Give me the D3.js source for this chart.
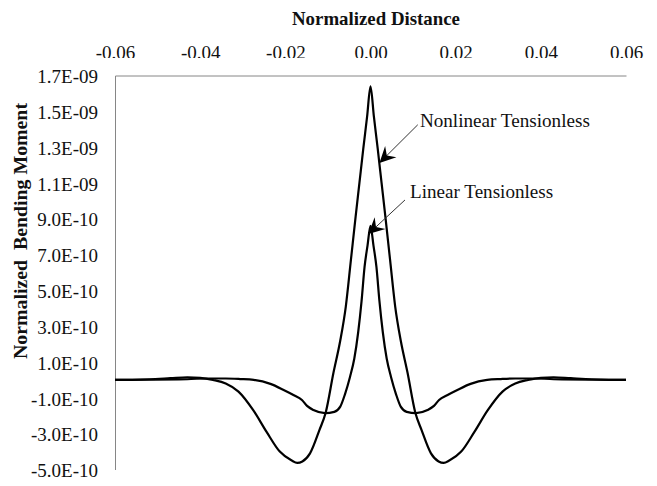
<!DOCTYPE html>
<html><head><meta charset="utf-8">
<script src="https://cdn.jsdelivr.net/npm/d3@7"></script>
<style>
body{margin:0;background:#fff;}
text{font-family:"Liberation Serif","Times New Roman",serif;fill:#111;}
</style>
</head><body>
<svg id="c" width="657" height="486"></svg>
<script>
// ---- data (moment values in units of 1E-10) ----
const xTickValues = [-0.06, -0.04, -0.02, 0.00, 0.02, 0.04, 0.06];
const xTickLabels = ["-0.06", "-0.04", "-0.02", "0.00", "0.02", "0.04", "0.06"];
const yTickValues = [17, 15, 13, 11, 9, 7, 5, 3, 1, -1, -3, -5];
const yTickLabels = ["1.7E-09", "1.5E-09", "1.3E-09", "1.1E-09", "9.0E-10", "7.0E-10", "5.0E-10", "3.0E-10", "1.0E-10", "-1.0E-10", "-3.0E-10", "-5.0E-10"];

const nonlinearX = [-0.06, -0.056, -0.052, -0.047, -0.043, -0.040, -0.037, -0.034, -0.031, -0.0275, -0.0244, -0.0213, -0.0185, -0.0172, -0.016, -0.0142, -0.012, -0.0105, -0.0087, -0.0071, -0.0058, -0.0046, -0.0035, -0.0026, -0.0017, -0.0008, 0,
  0.0008, 0.0017, 0.0026, 0.0035, 0.0046, 0.0058, 0.0071, 0.0087, 0.0105, 0.012, 0.0142, 0.016, 0.0172, 0.0185, 0.0213, 0.0244, 0.0275, 0.031, 0.034, 0.037, 0.040, 0.043, 0.047, 0.052, 0.056, 0.06];
const nonlinearM = [0, 0.01, 0.04, 0.1, 0.15, 0.12, 0, -0.2, -0.65, -1.7, -2.9, -4.0, -4.5, -4.63, -4.55, -4.1, -2.8, -1.8, 0.4, 2.2, 4.1, 6.7, 9.1, 11.0, 12.9, 14.7, 16.4,
  14.7, 12.9, 11.0, 9.1, 6.7, 4.1, 2.2, 0.4, -1.8, -2.8, -4.1, -4.55, -4.63, -4.5, -4.0, -2.9, -1.7, -0.65, -0.2, 0, 0.12, 0.15, 0.1, 0.04, 0.01, 0];

const linearX = [-0.06, -0.052, -0.045, -0.038, -0.034, -0.0306, -0.0274, -0.0235, -0.0204, -0.0181, -0.0161, -0.0149, -0.0134, -0.0107, -0.0085, -0.0071, -0.006, -0.0048, -0.0038, -0.0029, -0.0021, -0.0014, -0.0007, 0,
  0.0007, 0.0014, 0.0021, 0.0029, 0.0038, 0.0048, 0.006, 0.0071, 0.0085, 0.0107, 0.0134, 0.0149, 0.0161, 0.0181, 0.0204, 0.0235, 0.0274, 0.0306, 0.034, 0.038, 0.045, 0.052, 0.06];
const linearM = [0, 0.01, 0.03, 0.08, 0.08, 0.05, 0, -0.22, -0.56, -0.84, -1.12, -1.45, -1.68, -1.85, -1.78, -1.49, -0.8, 0.18, 1.2, 2.65, 4.4, 6.3, 7.5, 8.6,
  7.5, 6.3, 4.4, 2.65, 1.2, 0.18, -0.8, -1.49, -1.78, -1.85, -1.68, -1.45, -1.12, -0.84, -0.56, -0.22, 0, 0.05, 0.08, 0.08, 0.03, 0.01, 0];

const seriesNames = ["Nonlinear Tensionless", "Linear Tensionless"];
// annotation anchors in data coordinates: [textX, textM, lineStartX, lineStartM, tipX, tipM]
const annotNonlinear = [0.0116, 14.1, 0.0111, 14.25, 0.0021, 12.12];
const annotLinear = [0.0093, 10.16, 0.0081, 10.05, -0.0005, 8.15];

const xTitle = "Normalized Distance";
const yTitle = "Normalized  Bending Moment";

// ---- drawing ----
const svg = d3.select("#c");
const x = d3.scaleLinear().domain([-0.06, 0.06]).range([115, 626]);
const y = d3.scaleLinear().domain([-5, 17]).range([469.5, 75.5]);

const defs = svg.append("defs");
const cp = defs.append("clipPath").attr("id", "topclip");
cp.append("rect").attr("x", 0).attr("y", 0).attr("width", 657).attr("height", 58);
cp.append("rect").attr("x", 0).attr("y", 70).attr("width", 657).attr("height", 20);

// top x axis
const xg = svg.append("g").attr("clip-path", "url(#topclip)")
  .append("g").attr("transform", "translate(0," + y(17) + ")")
  .call(d3.axisTop(x).tickValues(xTickValues).tickFormat((d, i) => xTickLabels[i]).tickSize(0).tickSizeOuter(0));
xg.select(".domain").attr("stroke", "#868686").attr("stroke-width", 1);
xg.selectAll(".tick text").attr("font-size", 19).attr("font-family", "Liberation Serif")
  .attr("y", 59.3 - y(17)).attr("dy", 0).attr("fill", "#111");

// left y axis
const yg = svg.append("g").attr("transform", "translate(" + x(-0.06) + ",0)")
  .call(d3.axisLeft(y).tickValues(yTickValues).tickFormat((d, i) => yTickLabels[i]).tickSize(0).tickSizeOuter(0));
yg.select(".domain").attr("stroke", "#868686").attr("stroke-width", 1);
yg.selectAll(".tick text").attr("font-size", 19).attr("font-family", "Liberation Serif")
  .attr("x", -17).attr("dy", 0).attr("y", 7.2).attr("fill", "#111");

// titles
svg.append("text").attr("x", 376).attr("y", 25).attr("text-anchor", "middle")
  .attr("font-size", 19).attr("font-weight", "bold").attr("textLength", 168)
  .attr("lengthAdjust", "spacingAndGlyphs").text(xTitle);
svg.append("text").attr("transform", "translate(27,231) rotate(-90)").attr("text-anchor", "middle")
  .attr("font-size", 19.5).attr("font-weight", "bold").attr("textLength", 256)
  .attr("lengthAdjust", "spacingAndGlyphs").style("white-space", "pre").text(yTitle);

// curves
const line = d3.line().x(d => x(d[0])).y(d => y(d[1])).curve(d3.curveMonotoneX);
const nonlinearData = nonlinearX.map((v, i) => [v, nonlinearM[i]]);
const linearData = linearX.map((v, i) => [v, linearM[i]]);
[linearData, nonlinearData].forEach(data => {
  svg.append("path").datum(data).attr("d", line).attr("fill", "none")
    .attr("stroke", "#000").attr("stroke-width", 2.2).attr("stroke-linejoin", "round");
});

// annotations
function annotate(a, label, width) {
  const tx = x(a[0]), ty = y(a[1]);
  const sx = x(a[2]), sy = y(a[3]);
  const px = x(a[4]), py = y(a[5]);
  const L = 16, W = 8;
  const dx = px - sx, dy = py - sy, len = Math.hypot(dx, dy);
  const ux = dx / len, uy = dy / len, nx = -uy, ny = ux;
  const bx = px - ux * L, by = py - uy * L;
  svg.append("line").attr("x1", sx).attr("y1", sy).attr("x2", px - ux * 9).attr("y2", py - uy * 9)
    .attr("stroke", "#333").attr("stroke-width", 1);
  const head = d3.path();
  head.moveTo(px, py);
  head.lineTo(bx + nx * W, by + ny * W);
  head.lineTo(px - ux * L * 0.65, py - uy * L * 0.65);
  head.lineTo(bx - nx * W, by - ny * W);
  head.closePath();
  svg.append("path").attr("d", head.toString()).attr("fill", "#000");
  svg.append("text").attr("x", tx).attr("y", ty).attr("font-size", 19)
    .attr("textLength", width).attr("lengthAdjust", "spacingAndGlyphs").text(label);
}
annotate(annotNonlinear, seriesNames[0], 170);
annotate(annotLinear, seriesNames[1], 143);
</script>
</body></html>
